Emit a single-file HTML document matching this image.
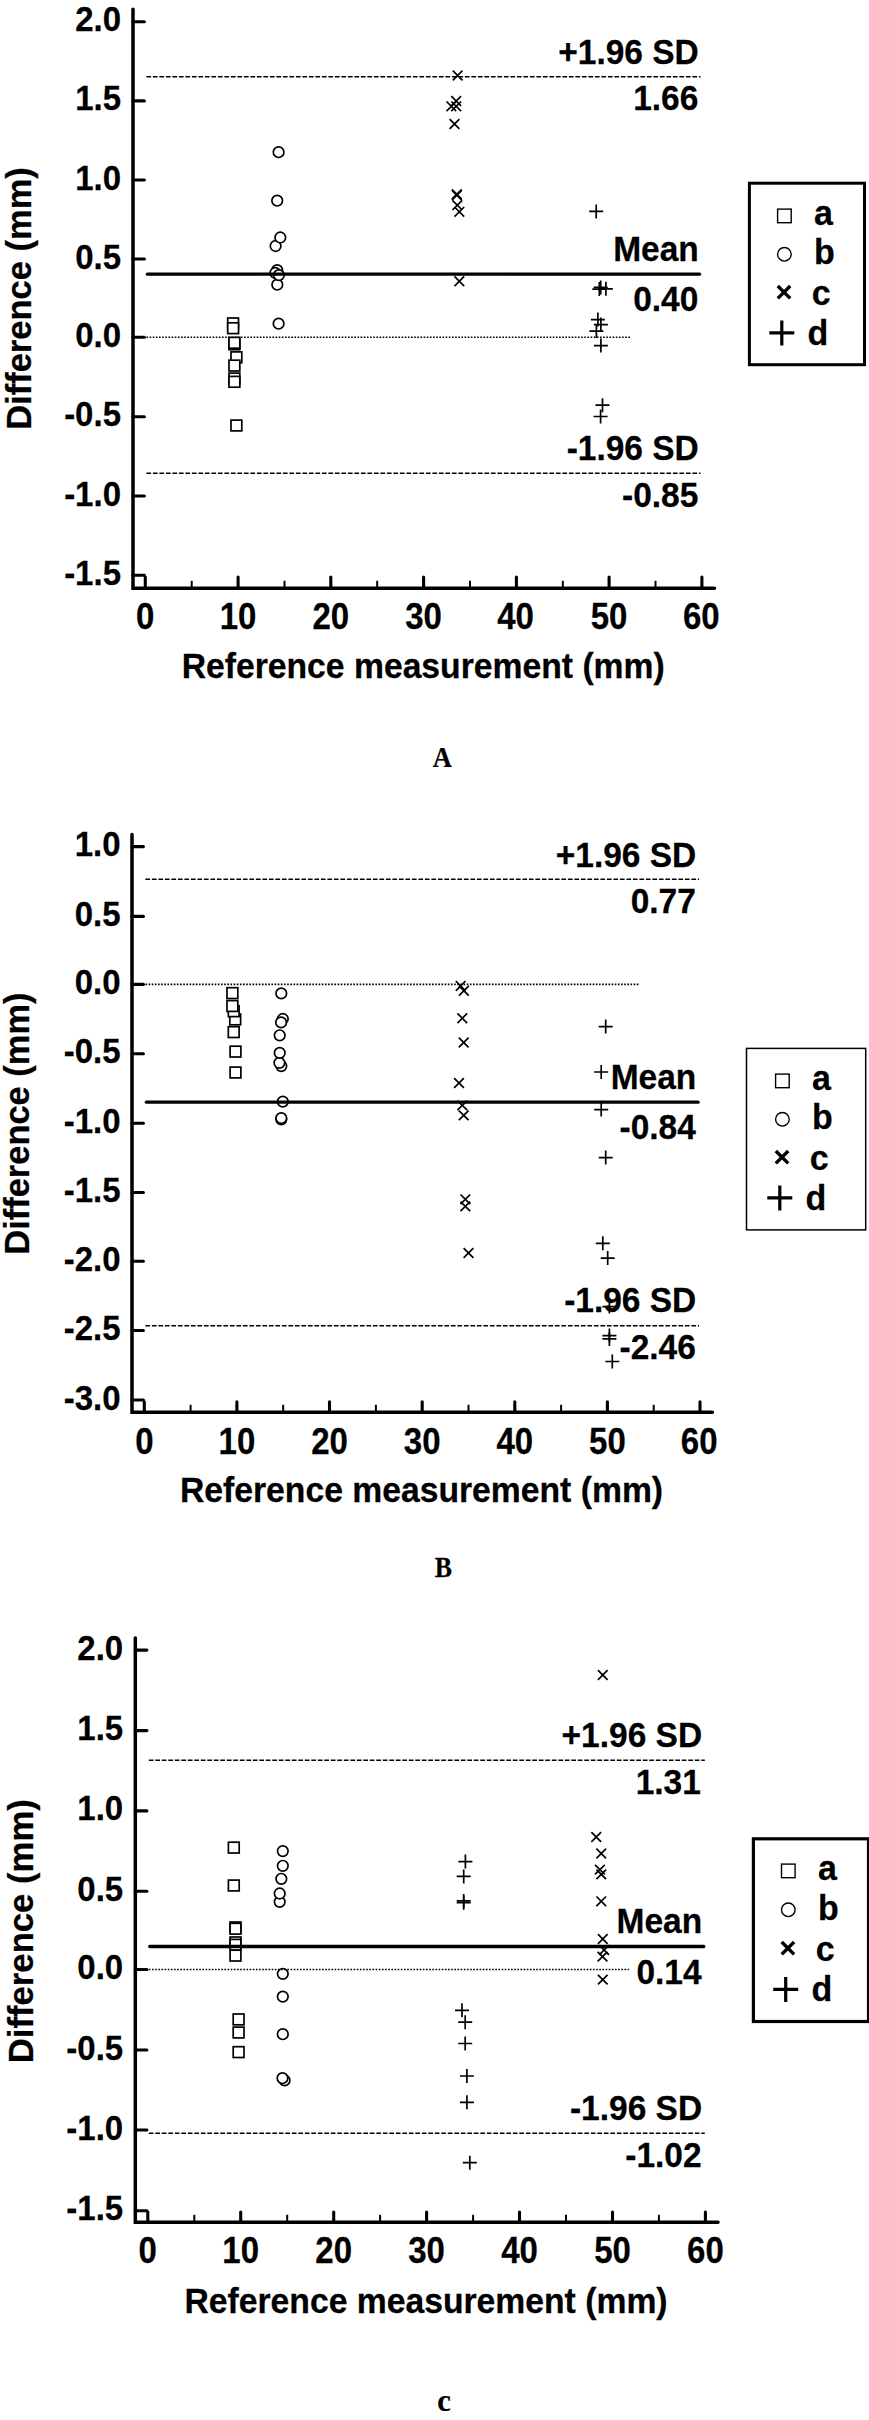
<!DOCTYPE html>
<html><head><meta charset="utf-8"><title>Bland-Altman plots</title>
<style>
html,body{margin:0;padding:0;background:#fff;}
body{width:869px;height:2420px;overflow:hidden;}
svg{display:block;}
svg text{font-family:"Liberation Sans",sans-serif;font-weight:bold;fill:#000;stroke:#000;stroke-width:0.25px;}
svg text.cap{font-family:"Liberation Serif",serif;font-weight:bold;}
</style></head><body>
<svg width="869" height="2420" viewBox="0 0 869 2420">
<rect width="869" height="2420" fill="#fff"/>

<g>
<path d="M133 9.2V588.3H714.5" fill="none" stroke="#000" stroke-width="3.5" stroke-linejoin="miter" stroke-linecap="round"/>
<path d="M133 21.8H144.4" stroke="#000" stroke-width="3.1" stroke-linecap="round"/>
<text transform="translate(121,31.3) scale(1,1.085)" font-size="33" text-anchor="end" >2.0</text>
<path d="M133 100.9H144.4" stroke="#000" stroke-width="3.1" stroke-linecap="round"/>
<text transform="translate(121,110.4) scale(1,1.085)" font-size="33" text-anchor="end" >1.5</text>
<path d="M133 180H144.4" stroke="#000" stroke-width="3.1" stroke-linecap="round"/>
<text transform="translate(121,189.5) scale(1,1.085)" font-size="33" text-anchor="end" >1.0</text>
<path d="M133 259H144.4" stroke="#000" stroke-width="3.1" stroke-linecap="round"/>
<text transform="translate(121,268.5) scale(1,1.085)" font-size="33" text-anchor="end" >0.5</text>
<path d="M133 337.2H144.4" stroke="#000" stroke-width="3.1" stroke-linecap="round"/>
<text transform="translate(121,346.7) scale(1,1.085)" font-size="33" text-anchor="end" >0.0</text>
<path d="M133 416.8H144.4" stroke="#000" stroke-width="3.1" stroke-linecap="round"/>
<text transform="translate(121,426.3) scale(1,1.085)" font-size="33" text-anchor="end" >-0.5</text>
<path d="M133 496H144.4" stroke="#000" stroke-width="3.1" stroke-linecap="round"/>
<text transform="translate(121,505.5) scale(1,1.085)" font-size="33" text-anchor="end" >-1.0</text>
<path d="M133 575.3H144.4" stroke="#000" stroke-width="3.1" stroke-linecap="round"/>
<text transform="translate(121,584.8) scale(1,1.085)" font-size="33" text-anchor="end" >-1.5</text>
<path d="M145.3 588.3V577.0" stroke="#000" stroke-width="3.1" stroke-linecap="round"/>
<text transform="translate(145.3,628.8) scale(1,1.095)" font-size="33" text-anchor="middle" >0</text>
<path d="M191.7 588.3V580.8" stroke="#000" stroke-width="2"/>
<path d="M238.1 588.3V577.0" stroke="#000" stroke-width="3.1" stroke-linecap="round"/>
<text transform="translate(238.1,628.8) scale(1,1.095)" font-size="33" text-anchor="middle" >10</text>
<path d="M284.5 588.3V580.8" stroke="#000" stroke-width="2"/>
<path d="M330.8 588.3V577.0" stroke="#000" stroke-width="3.1" stroke-linecap="round"/>
<text transform="translate(330.8,628.8) scale(1,1.095)" font-size="33" text-anchor="middle" >20</text>
<path d="M377.2 588.3V580.8" stroke="#000" stroke-width="2"/>
<path d="M423.6 588.3V577.0" stroke="#000" stroke-width="3.1" stroke-linecap="round"/>
<text transform="translate(423.6,628.8) scale(1,1.095)" font-size="33" text-anchor="middle" >30</text>
<path d="M470.0 588.3V580.8" stroke="#000" stroke-width="2"/>
<path d="M516.4 588.3V577.0" stroke="#000" stroke-width="3.1" stroke-linecap="round"/>
<text transform="translate(515.5,628.8) scale(1,1.095)" font-size="33" text-anchor="middle" >40</text>
<path d="M562.8 588.3V580.8" stroke="#000" stroke-width="2"/>
<path d="M609.1 588.3V577.0" stroke="#000" stroke-width="3.1" stroke-linecap="round"/>
<text transform="translate(609.1,628.8) scale(1,1.095)" font-size="33" text-anchor="middle" >50</text>
<path d="M655.5 588.3V580.8" stroke="#000" stroke-width="2"/>
<path d="M701.9 588.3V577.0" stroke="#000" stroke-width="3.1" stroke-linecap="round"/>
<text transform="translate(701.3,628.8) scale(1,1.095)" font-size="33" text-anchor="middle" >60</text>
<text transform="translate(423.2,677.9) scale(1,1.05)" font-size="33.7" text-anchor="middle" >Reference measurement (mm)</text>
<text transform="translate(31.4,298.5) rotate(-90)" font-size="34.5" text-anchor="middle">Difference (mm)</text>
<rect x="227.7" y="318.0" width="10.8" height="10.8" fill="#fff" stroke="#000" stroke-width="1.7"/>
<rect x="227.7" y="322.8" width="10.8" height="10.8" fill="#fff" stroke="#000" stroke-width="1.7"/>
<rect x="229.0" y="338.9" width="10.8" height="10.8" fill="#fff" stroke="#000" stroke-width="1.7"/>
<rect x="229.0" y="337.4" width="10.8" height="10.8" fill="#fff" stroke="#000" stroke-width="1.7"/>
<rect x="231.0" y="351.9" width="10.8" height="10.8" fill="#fff" stroke="#000" stroke-width="1.7"/>
<rect x="229.0" y="360.2" width="10.8" height="10.8" fill="#fff" stroke="#000" stroke-width="1.7"/>
<rect x="229.0" y="373.1" width="10.8" height="10.8" fill="#fff" stroke="#000" stroke-width="1.7"/>
<rect x="229.0" y="376.4" width="10.8" height="10.8" fill="#fff" stroke="#000" stroke-width="1.7"/>
<rect x="231.0" y="420.1" width="10.8" height="10.8" fill="#fff" stroke="#000" stroke-width="1.7"/>
<circle cx="278.6" cy="152.2" r="5.3" fill="#fff" stroke="#000" stroke-width="1.7"/>
<circle cx="277.2" cy="200.7" r="5.3" fill="#fff" stroke="#000" stroke-width="1.7"/>
<circle cx="275.6" cy="246.0" r="5.3" fill="#fff" stroke="#000" stroke-width="1.7"/>
<circle cx="280.3" cy="237.5" r="5.3" fill="#fff" stroke="#000" stroke-width="1.7"/>
<circle cx="277.2" cy="270.2" r="5.3" fill="#fff" stroke="#000" stroke-width="1.7"/>
<circle cx="275.3" cy="273.0" r="5.3" fill="#fff" stroke="#000" stroke-width="1.7"/>
<circle cx="277.3" cy="284.7" r="5.3" fill="#fff" stroke="#000" stroke-width="1.7"/>
<circle cx="278.9" cy="275.1" r="5.3" fill="#fff" stroke="#000" stroke-width="1.7"/>
<circle cx="278.6" cy="323.7" r="5.3" fill="#fff" stroke="#000" stroke-width="1.7"/>
<path d="M452.8 70.7L462.5 80.3M452.8 80.3L462.5 70.7" stroke="#000" stroke-width="1.7" fill="none"/>
<path d="M451.3 96.2L461.1 105.9M451.3 105.9L461.1 96.2" stroke="#000" stroke-width="1.7" fill="none"/>
<path d="M446.5 101.5L456.2 111.1M446.5 111.1L456.2 101.5" stroke="#000" stroke-width="1.7" fill="none"/>
<path d="M451.3 101.5L461.1 111.1M451.3 111.1L461.1 101.5" stroke="#000" stroke-width="1.7" fill="none"/>
<path d="M449.6 119.1L459.4 128.8M449.6 128.8L459.4 119.1" stroke="#000" stroke-width="1.7" fill="none"/>
<path d="M451.9 189.3L461.7 199.0M451.9 199.0L461.7 189.3" stroke="#000" stroke-width="1.7" fill="none"/>
<path d="M451.9 190.5L461.7 200.2M451.9 200.2L461.7 190.5" stroke="#000" stroke-width="1.7" fill="none"/>
<path d="M452.4 200.3L462.2 210.0M452.4 210.0L462.2 200.3" stroke="#000" stroke-width="1.7" fill="none"/>
<path d="M454.5 207.0L464.2 216.7M454.5 216.7L464.2 207.0" stroke="#000" stroke-width="1.7" fill="none"/>
<path d="M454.5 276.3L464.2 286.1M454.5 286.1L464.2 276.3" stroke="#000" stroke-width="1.7" fill="none"/>
<path d="M589.2 211.4H603.2M596.2 204.4V218.4" stroke="#000" stroke-width="1.7" fill="none"/>
<path d="M592.3 289.1H606.3M599.3 282.1V296.1" stroke="#000" stroke-width="1.7" fill="none"/>
<path d="M593.7 287.4H607.7M600.7 280.4V294.4" stroke="#000" stroke-width="1.7" fill="none"/>
<path d="M598.9 288.8H612.9M605.9 281.8V295.8" stroke="#000" stroke-width="1.7" fill="none"/>
<path d="M590.9 319.6H604.9M597.9 312.6V326.6" stroke="#000" stroke-width="1.7" fill="none"/>
<path d="M593.9 324.6H607.9M600.9 317.6V331.6" stroke="#000" stroke-width="1.7" fill="none"/>
<path d="M589.4 331.1H603.4M596.4 324.1V338.1" stroke="#000" stroke-width="1.7" fill="none"/>
<path d="M593.9 345.6H607.9M600.9 338.6V352.6" stroke="#000" stroke-width="1.7" fill="none"/>
<path d="M595.5 405.2H609.5M602.5 398.2V412.2" stroke="#000" stroke-width="1.7" fill="none"/>
<path d="M593.6 416.5H607.6M600.6 409.5V423.5" stroke="#000" stroke-width="1.7" fill="none"/>
<path d="M146.4 337.2H630.3" stroke="#000" stroke-width="1.6" stroke-dasharray="1.65 1.5"/>
<path d="M146.4 76.8H700.5" stroke="#000" stroke-width="1.5" stroke-dasharray="4.7 1.8"/>
<path d="M146.4 473.3H700.5" stroke="#000" stroke-width="1.5" stroke-dasharray="4.7 1.8"/>
<path d="M147.4 274.2H699.5" stroke="#000" stroke-width="3.3" stroke-linecap="round"/>
<text transform="translate(698.8,63.5) scale(1,1.04)" font-size="33.5" text-anchor="end" >+1.96 SD</text>
<text transform="translate(698.3,110.3) scale(1,1.04)" font-size="33.5" text-anchor="end" >1.66</text>
<text transform="translate(698.8,260.8) scale(1,1.04)" font-size="33.5" text-anchor="end" >Mean</text>
<text transform="translate(698.3,310.9) scale(1,1.04)" font-size="33.5" text-anchor="end" >0.40</text>
<text transform="translate(698.8,460.3) scale(1,1.04)" font-size="33.5" text-anchor="end" >-1.96 SD</text>
<text transform="translate(698.3,507.3) scale(1,1.04)" font-size="33.5" text-anchor="end" >-0.85</text>
<rect x="749.4" y="183.2" width="115.1" height="181.5" fill="#fff" stroke="#000" stroke-width="3.0"/>
<rect x="777.6" y="209.1" width="13.6" height="13.6" fill="#fff" stroke="#000" stroke-width="1.4"/>
<circle cx="784.4" cy="254.3" r="6.8" fill="#fff" stroke="#000" stroke-width="1.4"/>
<path d="M777.8 286.0L790.2 298.4M777.8 298.4L790.2 286.0" stroke="#000" stroke-width="3.4" fill="none"/>
<path d="M769.3 332.9H794.3M781.8 320.4V345.4" stroke="#000" stroke-width="3.2" fill="none"/>
<text transform="translate(814.1,224.7) scale(1,1.02)" font-size="34" text-anchor="start" >a</text>
<text transform="translate(814.0,264.2) scale(1,1.02)" font-size="34" text-anchor="start" >b</text>
<text transform="translate(811.8,304.8) scale(1,1.02)" font-size="34" text-anchor="start" >c</text>
<text transform="translate(807.5,344.6) scale(1,1.02)" font-size="34" text-anchor="start" >d</text>
<text class="cap" transform="translate(442.4,766.6) scale(0.91,1)" font-size="29" text-anchor="middle" stroke="#000" stroke-width="0.5">A</text>
</g>
<g>
<path d="M132 834.5V1412.3H712.4" fill="none" stroke="#000" stroke-width="3.5" stroke-linejoin="miter" stroke-linecap="round"/>
<path d="M132 846.6H143.4" stroke="#000" stroke-width="3.1" stroke-linecap="round"/>
<text transform="translate(120.6,856.1) scale(1,1.085)" font-size="33" text-anchor="end" >1.0</text>
<path d="M132 916.4H143.4" stroke="#000" stroke-width="3.1" stroke-linecap="round"/>
<text transform="translate(120.6,925.9) scale(1,1.085)" font-size="33" text-anchor="end" >0.5</text>
<path d="M132 984.4H143.4" stroke="#000" stroke-width="3.1" stroke-linecap="round"/>
<text transform="translate(120.6,993.9) scale(1,1.085)" font-size="33" text-anchor="end" >0.0</text>
<path d="M132 1053.7H143.4" stroke="#000" stroke-width="3.1" stroke-linecap="round"/>
<text transform="translate(120.6,1063.2) scale(1,1.085)" font-size="33" text-anchor="end" >-0.5</text>
<path d="M132 1123.3H143.4" stroke="#000" stroke-width="3.1" stroke-linecap="round"/>
<text transform="translate(120.6,1132.8) scale(1,1.085)" font-size="33" text-anchor="end" >-1.0</text>
<path d="M132 1192.5H143.4" stroke="#000" stroke-width="3.1" stroke-linecap="round"/>
<text transform="translate(120.6,1202.0) scale(1,1.085)" font-size="33" text-anchor="end" >-1.5</text>
<path d="M132 1261.3H143.4" stroke="#000" stroke-width="3.1" stroke-linecap="round"/>
<text transform="translate(120.6,1270.8) scale(1,1.085)" font-size="33" text-anchor="end" >-2.0</text>
<path d="M132 1330.5H143.4" stroke="#000" stroke-width="3.1" stroke-linecap="round"/>
<text transform="translate(120.6,1340.0) scale(1,1.085)" font-size="33" text-anchor="end" >-2.5</text>
<path d="M132 1400.0H143.4" stroke="#000" stroke-width="3.1" stroke-linecap="round"/>
<text transform="translate(120.6,1409.5) scale(1,1.085)" font-size="33" text-anchor="end" >-3.0</text>
<path d="M144.3 1412.3V1401.8" stroke="#000" stroke-width="3.1" stroke-linecap="round"/>
<text transform="translate(144.5,1454.0) scale(1,1.095)" font-size="33" text-anchor="middle" >0</text>
<path d="M190.6 1412.3V1404.8" stroke="#000" stroke-width="2"/>
<path d="M236.9 1412.3V1401.8" stroke="#000" stroke-width="3.1" stroke-linecap="round"/>
<text transform="translate(236.9,1454.0) scale(1,1.095)" font-size="33" text-anchor="middle" >10</text>
<path d="M283.2 1412.3V1404.8" stroke="#000" stroke-width="2"/>
<path d="M329.5 1412.3V1401.8" stroke="#000" stroke-width="3.1" stroke-linecap="round"/>
<text transform="translate(329.5,1454.0) scale(1,1.095)" font-size="33" text-anchor="middle" >20</text>
<path d="M375.9 1412.3V1404.8" stroke="#000" stroke-width="2"/>
<path d="M422.2 1412.3V1401.8" stroke="#000" stroke-width="3.1" stroke-linecap="round"/>
<text transform="translate(422.2,1454.0) scale(1,1.095)" font-size="33" text-anchor="middle" >30</text>
<path d="M468.5 1412.3V1404.8" stroke="#000" stroke-width="2"/>
<path d="M514.8 1412.3V1401.8" stroke="#000" stroke-width="3.1" stroke-linecap="round"/>
<text transform="translate(514.8,1454.0) scale(1,1.095)" font-size="33" text-anchor="middle" >40</text>
<path d="M561.1 1412.3V1404.8" stroke="#000" stroke-width="2"/>
<path d="M607.4 1412.3V1401.8" stroke="#000" stroke-width="3.1" stroke-linecap="round"/>
<text transform="translate(607.4,1454.0) scale(1,1.095)" font-size="33" text-anchor="middle" >50</text>
<path d="M653.7 1412.3V1404.8" stroke="#000" stroke-width="2"/>
<path d="M700.0 1412.3V1401.8" stroke="#000" stroke-width="3.1" stroke-linecap="round"/>
<text transform="translate(699.2,1454.0) scale(1,1.095)" font-size="33" text-anchor="middle" >60</text>
<text transform="translate(421.5,1502) scale(1,1.05)" font-size="33.7" text-anchor="middle" >Reference measurement (mm)</text>
<text transform="translate(28.9,1123.6) rotate(-90)" font-size="34.45" text-anchor="middle">Difference (mm)</text>
<rect x="227.0" y="987.7" width="10.8" height="10.8" fill="#fff" stroke="#000" stroke-width="1.7"/>
<rect x="229.8" y="1014.0" width="10.8" height="10.8" fill="#fff" stroke="#000" stroke-width="1.7"/>
<rect x="228.3" y="1005.8" width="10.8" height="10.8" fill="#fff" stroke="#000" stroke-width="1.7"/>
<rect x="227.0" y="1000.6" width="10.8" height="10.8" fill="#fff" stroke="#000" stroke-width="1.7"/>
<rect x="228.3" y="1026.7" width="10.8" height="10.8" fill="#fff" stroke="#000" stroke-width="1.7"/>
<rect x="230.1" y="1046.2" width="10.8" height="10.8" fill="#fff" stroke="#000" stroke-width="1.7"/>
<rect x="230.1" y="1067.1" width="10.8" height="10.8" fill="#fff" stroke="#000" stroke-width="1.7"/>
<circle cx="281.3" cy="993.4" r="5.3" fill="#fff" stroke="#000" stroke-width="1.7"/>
<circle cx="282.8" cy="1019.0" r="5.3" fill="#fff" stroke="#000" stroke-width="1.7"/>
<circle cx="281.1" cy="1022.4" r="5.3" fill="#fff" stroke="#000" stroke-width="1.7"/>
<circle cx="279.7" cy="1035.3" r="5.3" fill="#fff" stroke="#000" stroke-width="1.7"/>
<circle cx="281.3" cy="1066.1" r="5.3" fill="#fff" stroke="#000" stroke-width="1.7"/>
<circle cx="279.4" cy="1062.8" r="5.3" fill="#fff" stroke="#000" stroke-width="1.7"/>
<circle cx="279.7" cy="1052.9" r="5.3" fill="#fff" stroke="#000" stroke-width="1.7"/>
<circle cx="282.8" cy="1101.6" r="5.3" fill="#fff" stroke="#000" stroke-width="1.7"/>
<circle cx="281.3" cy="1119.3" r="5.3" fill="#fff" stroke="#000" stroke-width="1.7"/>
<circle cx="281.3" cy="1118.1" r="5.3" fill="#fff" stroke="#000" stroke-width="1.7"/>
<path d="M455.8 981.0L465.5 990.8M455.8 990.8L465.5 981.0" stroke="#000" stroke-width="1.7" fill="none"/>
<path d="M459.0 985.9L468.8 995.6M459.0 995.6L468.8 985.9" stroke="#000" stroke-width="1.7" fill="none"/>
<path d="M457.4 1013.4L467.2 1023.1M457.4 1023.1L467.2 1013.4" stroke="#000" stroke-width="1.7" fill="none"/>
<path d="M458.8 1037.7L468.6 1047.3M458.8 1047.3L468.6 1037.7" stroke="#000" stroke-width="1.7" fill="none"/>
<path d="M454.1 1078.2L463.9 1087.9M454.1 1087.9L463.9 1078.2" stroke="#000" stroke-width="1.7" fill="none"/>
<path d="M457.4 1100.6L467.2 1110.2M457.4 1110.2L467.2 1100.6" stroke="#000" stroke-width="1.7" fill="none"/>
<path d="M458.8 1110.6L468.6 1120.2M458.8 1120.2L468.6 1110.6" stroke="#000" stroke-width="1.7" fill="none"/>
<path d="M460.5 1194.5L470.2 1204.1M460.5 1204.1L470.2 1194.5" stroke="#000" stroke-width="1.7" fill="none"/>
<path d="M460.5 1201.6L470.2 1211.2M460.5 1211.2L470.2 1201.6" stroke="#000" stroke-width="1.7" fill="none"/>
<path d="M463.6 1248.1L473.4 1257.8M463.6 1257.8L473.4 1248.1" stroke="#000" stroke-width="1.7" fill="none"/>
<path d="M598.7 1026.6H612.7M605.7 1019.6V1033.6" stroke="#000" stroke-width="1.7" fill="none"/>
<path d="M594.2 1072.0H608.2M601.2 1065.0V1079.0" stroke="#000" stroke-width="1.7" fill="none"/>
<path d="M594.2 1109.6H608.2M601.2 1102.6V1116.6" stroke="#000" stroke-width="1.7" fill="none"/>
<path d="M598.7 1157.6H612.7M605.7 1150.6V1164.6" stroke="#000" stroke-width="1.7" fill="none"/>
<path d="M595.8 1243.3H609.8M602.8 1236.3V1250.3" stroke="#000" stroke-width="1.7" fill="none"/>
<path d="M600.7 1258.1H614.7M607.7 1251.1V1265.1" stroke="#000" stroke-width="1.7" fill="none"/>
<path d="M602.4 1306.6H616.4M609.4 1299.6V1313.6" stroke="#000" stroke-width="1.7" fill="none"/>
<path d="M602.4 1335.6H616.4M609.4 1328.6V1342.6" stroke="#000" stroke-width="1.7" fill="none"/>
<path d="M602.4 1338.9H616.4M609.4 1331.9V1345.9" stroke="#000" stroke-width="1.7" fill="none"/>
<path d="M605.3 1361.5H619.3M612.3 1354.5V1368.5" stroke="#000" stroke-width="1.7" fill="none"/>
<path d="M145.4 984.4H639.7" stroke="#000" stroke-width="1.6" stroke-dasharray="1.65 1.5"/>
<path d="M145.4 879.3H699.1" stroke="#000" stroke-width="1.5" stroke-dasharray="4.7 1.8"/>
<path d="M145.4 1325.8H699.1" stroke="#000" stroke-width="1.5" stroke-dasharray="4.7 1.8"/>
<path d="M146.4 1102.2H698.1" stroke="#000" stroke-width="3.3" stroke-linecap="round"/>
<text transform="translate(696.3,866.5) scale(1,1.04)" font-size="33.5" text-anchor="end" >+1.96 SD</text>
<text transform="translate(695.8,913.3) scale(1,1.04)" font-size="33.5" text-anchor="end" >0.77</text>
<text transform="translate(696.3,1088.8) scale(1,1.04)" font-size="33.5" text-anchor="end" >Mean</text>
<text transform="translate(695.8,1139.3) scale(1,1.04)" font-size="33.5" text-anchor="end" >-0.84</text>
<text transform="translate(696.3,1312.0) scale(1,1.04)" font-size="33.5" text-anchor="end" >-1.96 SD</text>
<text transform="translate(695.8,1359.3) scale(1,1.04)" font-size="33.5" text-anchor="end" >-2.46</text>
<rect x="746.5" y="1048.4" width="119.2" height="181.5" fill="#fff" stroke="#000" stroke-width="1.5"/>
<rect x="775.6" y="1074.1" width="13.6" height="13.6" fill="#fff" stroke="#000" stroke-width="1.4"/>
<circle cx="782.4" cy="1119.3" r="6.8" fill="#fff" stroke="#000" stroke-width="1.4"/>
<path d="M775.8 1151.0L788.2 1163.4M775.8 1163.4L788.2 1151.0" stroke="#000" stroke-width="3.4" fill="none"/>
<path d="M767.3 1197.9H792.3M779.8 1185.4V1210.4" stroke="#000" stroke-width="3.2" fill="none"/>
<text transform="translate(812.1,1089.7) scale(1,1.02)" font-size="34" text-anchor="start" >a</text>
<text transform="translate(812.0,1129.2) scale(1,1.02)" font-size="34" text-anchor="start" >b</text>
<text transform="translate(809.8,1169.8) scale(1,1.02)" font-size="34" text-anchor="start" >c</text>
<text transform="translate(805.5,1209.6) scale(1,1.02)" font-size="34" text-anchor="start" >d</text>
<text class="cap" transform="translate(443.4,1576.8) scale(0.89,1)" font-size="29" text-anchor="middle" stroke="#000" stroke-width="0.5">B</text>
</g>
<g>
<path d="M135.3 1638.1V2222.3H718" fill="none" stroke="#000" stroke-width="3.5" stroke-linejoin="miter" stroke-linecap="round"/>
<path d="M135.3 1650.1H146.9" stroke="#000" stroke-width="3.1" stroke-linecap="round"/>
<text transform="translate(123.2,1659.6) scale(1,1.085)" font-size="33" text-anchor="end" >2.0</text>
<path d="M135.3 1730.6H146.9" stroke="#000" stroke-width="3.1" stroke-linecap="round"/>
<text transform="translate(123.2,1740.1) scale(1,1.085)" font-size="33" text-anchor="end" >1.5</text>
<path d="M135.3 1810.9H146.9" stroke="#000" stroke-width="3.1" stroke-linecap="round"/>
<text transform="translate(123.2,1820.4) scale(1,1.085)" font-size="33" text-anchor="end" >1.0</text>
<path d="M135.3 1891.2H146.9" stroke="#000" stroke-width="3.1" stroke-linecap="round"/>
<text transform="translate(123.2,1900.7) scale(1,1.085)" font-size="33" text-anchor="end" >0.5</text>
<path d="M135.3 1969.5H146.9" stroke="#000" stroke-width="3.1" stroke-linecap="round"/>
<text transform="translate(123.2,1979.0) scale(1,1.085)" font-size="33" text-anchor="end" >0.0</text>
<path d="M135.3 2050.0H146.9" stroke="#000" stroke-width="3.1" stroke-linecap="round"/>
<text transform="translate(123.2,2059.5) scale(1,1.085)" font-size="33" text-anchor="end" >-0.5</text>
<path d="M135.3 2130.0H146.9" stroke="#000" stroke-width="3.1" stroke-linecap="round"/>
<text transform="translate(123.2,2139.5) scale(1,1.085)" font-size="33" text-anchor="end" >-1.0</text>
<path d="M135.3 2210.8H146.9" stroke="#000" stroke-width="3.1" stroke-linecap="round"/>
<text transform="translate(123.2,2220.3) scale(1,1.085)" font-size="33" text-anchor="end" >-1.5</text>
<path d="M147.8 2222.3V2212.1" stroke="#000" stroke-width="3.1" stroke-linecap="round"/>
<text transform="translate(147.8,2263.4) scale(1,1.095)" font-size="33" text-anchor="middle" >0</text>
<path d="M194.3 2222.3V2214.8" stroke="#000" stroke-width="2"/>
<path d="M240.7 2222.3V2212.1" stroke="#000" stroke-width="3.1" stroke-linecap="round"/>
<text transform="translate(240.7,2263.4) scale(1,1.095)" font-size="33" text-anchor="middle" >10</text>
<path d="M287.2 2222.3V2214.8" stroke="#000" stroke-width="2"/>
<path d="M333.7 2222.3V2212.1" stroke="#000" stroke-width="3.1" stroke-linecap="round"/>
<text transform="translate(333.7,2263.4) scale(1,1.095)" font-size="33" text-anchor="middle" >20</text>
<path d="M380.1 2222.3V2214.8" stroke="#000" stroke-width="2"/>
<path d="M426.6 2222.3V2212.1" stroke="#000" stroke-width="3.1" stroke-linecap="round"/>
<text transform="translate(426.6,2263.4) scale(1,1.095)" font-size="33" text-anchor="middle" >30</text>
<path d="M473.1 2222.3V2214.8" stroke="#000" stroke-width="2"/>
<path d="M519.5 2222.3V2212.1" stroke="#000" stroke-width="3.1" stroke-linecap="round"/>
<text transform="translate(519.5,2263.4) scale(1,1.095)" font-size="33" text-anchor="middle" >40</text>
<path d="M566.0 2222.3V2214.8" stroke="#000" stroke-width="2"/>
<path d="M612.5 2222.3V2212.1" stroke="#000" stroke-width="3.1" stroke-linecap="round"/>
<text transform="translate(612.5,2263.4) scale(1,1.095)" font-size="33" text-anchor="middle" >50</text>
<path d="M658.9 2222.3V2214.8" stroke="#000" stroke-width="2"/>
<path d="M705.4 2222.3V2212.1" stroke="#000" stroke-width="3.1" stroke-linecap="round"/>
<text transform="translate(705.4,2263.4) scale(1,1.095)" font-size="33" text-anchor="middle" >60</text>
<text transform="translate(426,2313) scale(1,1.05)" font-size="33.7" text-anchor="middle" >Reference measurement (mm)</text>
<text transform="translate(33.0,1931.2) rotate(-90)" font-size="34.7" text-anchor="middle">Difference (mm)</text>
<rect x="228.4" y="1842.2" width="10.8" height="10.8" fill="#fff" stroke="#000" stroke-width="1.7"/>
<rect x="228.4" y="1880.1" width="10.8" height="10.8" fill="#fff" stroke="#000" stroke-width="1.7"/>
<rect x="230.1" y="1922.0" width="10.8" height="10.8" fill="#fff" stroke="#000" stroke-width="1.7"/>
<rect x="230.1" y="1923.3" width="10.8" height="10.8" fill="#fff" stroke="#000" stroke-width="1.7"/>
<rect x="230.1" y="1937.0" width="10.8" height="10.8" fill="#fff" stroke="#000" stroke-width="1.7"/>
<rect x="230.1" y="1939.4" width="10.8" height="10.8" fill="#fff" stroke="#000" stroke-width="1.7"/>
<rect x="230.1" y="1950.2" width="10.8" height="10.8" fill="#fff" stroke="#000" stroke-width="1.7"/>
<rect x="233.2" y="2014.0" width="10.8" height="10.8" fill="#fff" stroke="#000" stroke-width="1.7"/>
<rect x="233.2" y="2027.1" width="10.8" height="10.8" fill="#fff" stroke="#000" stroke-width="1.7"/>
<rect x="233.2" y="2046.7" width="10.8" height="10.8" fill="#fff" stroke="#000" stroke-width="1.7"/>
<circle cx="282.8" cy="1851.1" r="5.3" fill="#fff" stroke="#000" stroke-width="1.7"/>
<circle cx="282.8" cy="1865.8" r="5.3" fill="#fff" stroke="#000" stroke-width="1.7"/>
<circle cx="281.3" cy="1878.8" r="5.3" fill="#fff" stroke="#000" stroke-width="1.7"/>
<circle cx="279.7" cy="1901.8" r="5.3" fill="#fff" stroke="#000" stroke-width="1.7"/>
<circle cx="279.7" cy="1893.5" r="5.3" fill="#fff" stroke="#000" stroke-width="1.7"/>
<circle cx="282.8" cy="1973.8" r="5.3" fill="#fff" stroke="#000" stroke-width="1.7"/>
<circle cx="282.8" cy="1996.6" r="5.3" fill="#fff" stroke="#000" stroke-width="1.7"/>
<circle cx="282.8" cy="2034.2" r="5.3" fill="#fff" stroke="#000" stroke-width="1.7"/>
<circle cx="284.6" cy="2080.3" r="5.3" fill="#fff" stroke="#000" stroke-width="1.7"/>
<circle cx="282.5" cy="2078.2" r="5.3" fill="#fff" stroke="#000" stroke-width="1.7"/>
<path d="M597.9 1670.2L607.6 1679.9M597.9 1679.9L607.6 1670.2" stroke="#000" stroke-width="1.7" fill="none"/>
<path d="M591.4 1832.2L601.1 1841.8M591.4 1841.8L601.1 1832.2" stroke="#000" stroke-width="1.7" fill="none"/>
<path d="M596.4 1848.7L606.1 1858.3M596.4 1858.3L606.1 1848.7" stroke="#000" stroke-width="1.7" fill="none"/>
<path d="M595.0 1864.8L604.8 1874.4M595.0 1874.4L604.8 1864.8" stroke="#000" stroke-width="1.7" fill="none"/>
<path d="M596.4 1869.6L606.1 1879.2M596.4 1879.2L606.1 1869.6" stroke="#000" stroke-width="1.7" fill="none"/>
<path d="M596.4 1896.5L606.1 1906.1M596.4 1906.1L606.1 1896.5" stroke="#000" stroke-width="1.7" fill="none"/>
<path d="M597.9 1934.1L607.6 1943.8M597.9 1943.8L607.6 1934.1" stroke="#000" stroke-width="1.7" fill="none"/>
<path d="M599.2 1945.2L609.0 1954.9M599.2 1954.9L609.0 1945.2" stroke="#000" stroke-width="1.7" fill="none"/>
<path d="M597.6 1951.8L607.4 1961.4M597.6 1961.4L607.4 1951.8" stroke="#000" stroke-width="1.7" fill="none"/>
<path d="M597.9 1974.8L607.6 1984.4M597.9 1984.4L607.6 1974.8" stroke="#000" stroke-width="1.7" fill="none"/>
<path d="M458.4 1861.6H472.4M465.4 1854.6V1868.6" stroke="#000" stroke-width="1.7" fill="none"/>
<path d="M456.7 1876.4H470.7M463.7 1869.4V1883.4" stroke="#000" stroke-width="1.7" fill="none"/>
<path d="M456.7 1900.9H470.7M463.7 1893.9V1907.9" stroke="#000" stroke-width="1.7" fill="none"/>
<path d="M456.7 1902.7H470.7M463.7 1895.7V1909.7" stroke="#000" stroke-width="1.7" fill="none"/>
<path d="M455.0 2010.3H469.0M462.0 2003.3V2017.3" stroke="#000" stroke-width="1.7" fill="none"/>
<path d="M458.2 2022.2H472.2M465.2 2015.2V2029.2" stroke="#000" stroke-width="1.7" fill="none"/>
<path d="M458.2 2043.5H472.2M465.2 2036.5V2050.5" stroke="#000" stroke-width="1.7" fill="none"/>
<path d="M459.9 2076.0H473.9M466.9 2069.0V2083.0" stroke="#000" stroke-width="1.7" fill="none"/>
<path d="M459.9 2102.3H473.9M466.9 2095.3V2109.3" stroke="#000" stroke-width="1.7" fill="none"/>
<path d="M462.8 2162.7H476.8M469.8 2155.7V2169.7" stroke="#000" stroke-width="1.7" fill="none"/>
<path d="M148.8 1969.5H629.1" stroke="#000" stroke-width="1.6" stroke-dasharray="1.65 1.5"/>
<path d="M148.8 1760.2H704.8" stroke="#000" stroke-width="1.5" stroke-dasharray="4.7 1.8"/>
<path d="M148.8 2133.2H704.8" stroke="#000" stroke-width="1.5" stroke-dasharray="4.7 1.8"/>
<path d="M149.8 1946.5H703.8" stroke="#000" stroke-width="3.3" stroke-linecap="round"/>
<text transform="translate(702.1,1747.3) scale(1,1.04)" font-size="33.5" text-anchor="end" >+1.96 SD</text>
<text transform="translate(700.8,1794.0) scale(1,1.04)" font-size="33.5" text-anchor="end" >1.31</text>
<text transform="translate(702.1,1932.9) scale(1,1.04)" font-size="33.5" text-anchor="end" >Mean</text>
<text transform="translate(701.6,1983.9) scale(1,1.04)" font-size="33.5" text-anchor="end" >0.14</text>
<text transform="translate(702.1,2120.3) scale(1,1.04)" font-size="33.5" text-anchor="end" >-1.96 SD</text>
<text transform="translate(701.6,2167.0) scale(1,1.04)" font-size="33.5" text-anchor="end" >-1.02</text>
<rect x="753.4" y="1838.8" width="115.1" height="182.7" fill="#fff" stroke="#000" stroke-width="3.2"/>
<rect x="781.5" y="1864.1" width="13.6" height="13.6" fill="#fff" stroke="#000" stroke-width="1.4"/>
<circle cx="788.3" cy="1909.8" r="6.8" fill="#fff" stroke="#000" stroke-width="1.4"/>
<path d="M781.7 1942.0L794.1 1954.4M781.7 1954.4L794.1 1942.0" stroke="#000" stroke-width="3.4" fill="none"/>
<path d="M773.2 1989.4H798.2M785.7 1976.9V2001.9" stroke="#000" stroke-width="3.2" fill="none"/>
<text transform="translate(818.0,1879.8) scale(1,1.02)" font-size="34" text-anchor="start" >a</text>
<text transform="translate(817.9,1919.8) scale(1,1.02)" font-size="34" text-anchor="start" >b</text>
<text transform="translate(815.7,1961.0) scale(1,1.02)" font-size="34" text-anchor="start" >c</text>
<text transform="translate(811.4,2001.3) scale(1,1.02)" font-size="34" text-anchor="start" >d</text>
<text class="cap" transform="translate(444.0,2411) scale(0.97,1)" font-size="31.5" text-anchor="middle" stroke="#000" stroke-width="0.5">c</text>
</g>
</svg>
</body></html>
